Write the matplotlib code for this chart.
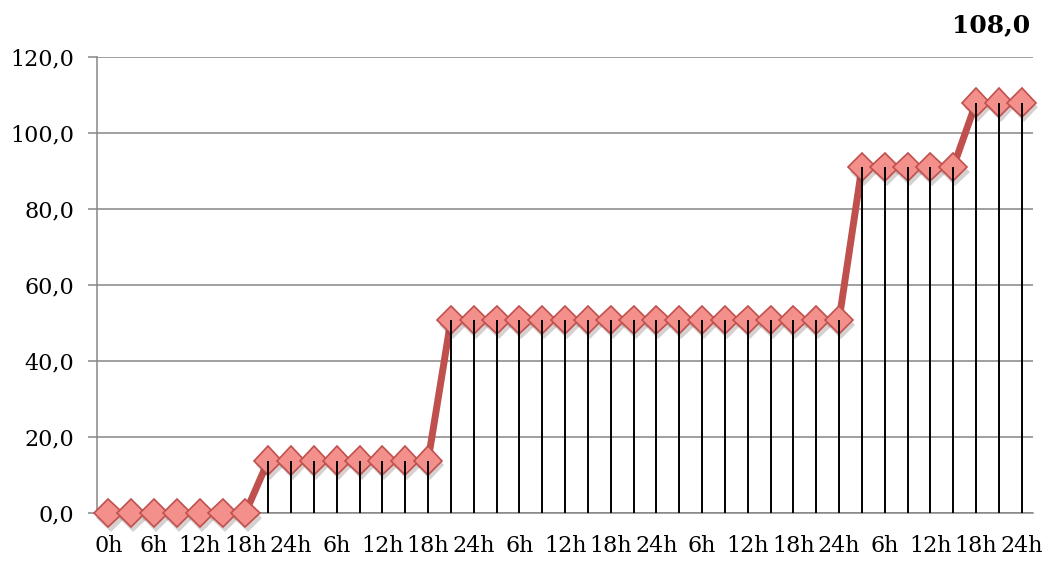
import numpy as np
import matplotlib.pyplot as plt
import matplotlib.patheffects as pe

# valores cada 3 horas durante 5 días
valores = [0.0] * 7 + [13.8] * 8 + [50.8] * 18 + [91.0] * 5 + [108.0] * 3
horas = ['0h'] + ['6h', '12h', '18h', '24h'] * 5
yticks = [0, 20, 40, 60, 80, 100, 120]

plt.rcParams['font.family'] = ['DejaVu Serif']

x = np.arange(len(valores))

fig = plt.figure(figsize=(10.51, 5.61), dpi=100)
ax = fig.add_axes([0.0923, 0.0856, 0.8907, 0.8128])

# linea gruesa
ax.plot(x, valores, color='#C0504D', lw=5, zorder=2, solid_joinstyle='round', clip_on=False)
# rombos con sombra
ax.plot(x, valores, ls='none', marker='D', ms=14.5, mfc='#F4908C', mec='#C0504D', mew=1.2,
        zorder=3, clip_on=False,
        path_effects=[pe.SimplePatchShadow(offset=(1.5, -3.5), alpha=0.22), pe.Normal()])
# lineas de caida
ax.vlines(x, 0, valores, color='black', lw=1.4, zorder=4)

ax.annotate(f'{valores[-1]:.1f}'.replace('.', ','), xy=(x[-1], valores[-1]), xytext=(6, 56),
            textcoords='offset points', ha='right', va='center', fontsize=18, fontweight='bold')

ax.set_xlim(-0.5, len(valores) - 0.5)
ax.set_ylim(0, 120)
ax.set_yticks(yticks)
ax.set_yticklabels([f'{v:.1f}'.replace('.', ',') for v in yticks], fontsize=16)
ax.set_xticks(x[::2])
ax.set_xticklabels(horas, fontsize=16)
ax.tick_params(axis='x', length=0, pad=16)
ax.tick_params(axis='y', length=6.5, width=1.1, color='#868686', pad=10)

ax.grid(axis='y', color='#868686', lw=1.1)
ax.set_axisbelow(True)
for s in ['top', 'right']:
    ax.spines[s].set_visible(False)
for s in ['left', 'bottom']:
    ax.spines[s].set_color('#868686')
    ax.spines[s].set_linewidth(1.1)

fig.savefig('out.png', dpi=100)
